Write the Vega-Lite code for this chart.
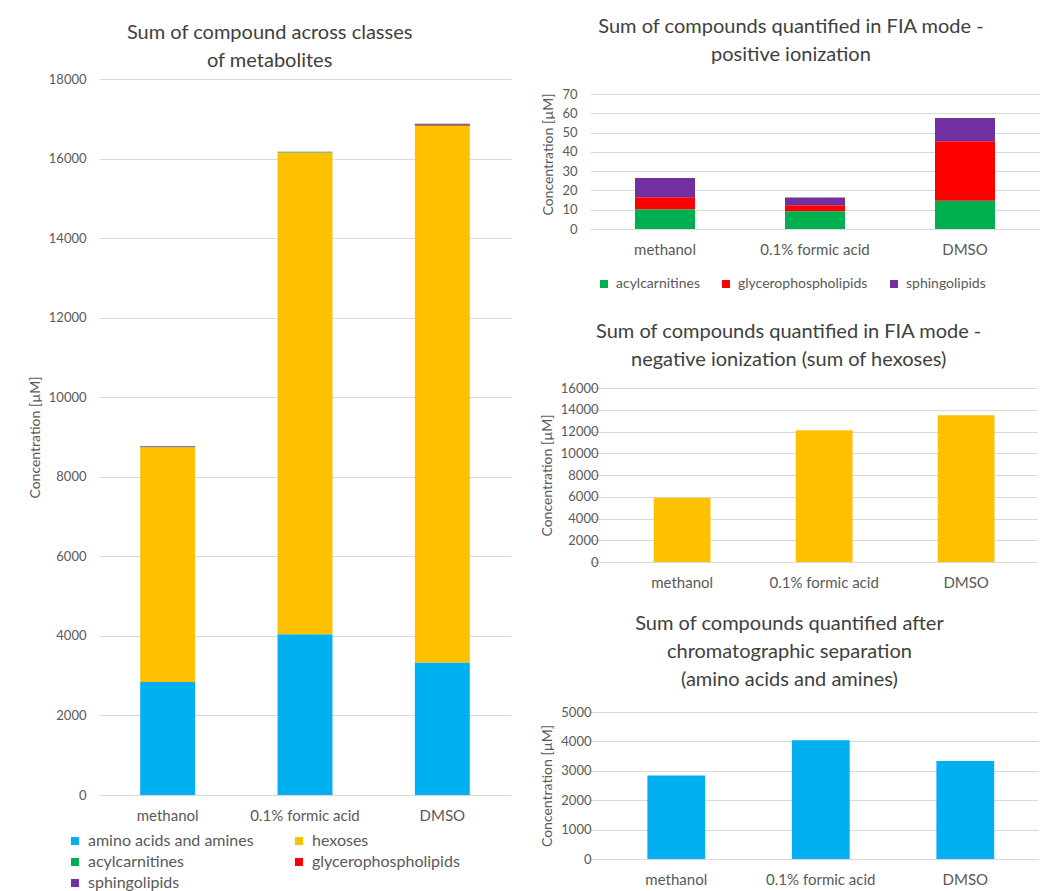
{
  "$schema": "https://vega.github.io/schema/vega-lite/v6.json",
  "background": "white",
  "padding": {"left": 28, "top": 17, "right": 0, "bottom": 0},
  "datasets": {
    "main": [
      {"solvent": "methanol", "class": "amino acids and amines", "value": 2840},
      {"solvent": "methanol", "class": "hexoses", "value": 5905},
      {"solvent": "methanol", "class": "acylcarnitines", "value": 10.2},
      {"solvent": "methanol", "class": "glycerophospholipids", "value": 6.3},
      {"solvent": "methanol", "class": "sphingolipids", "value": 9.9},
      {"solvent": "0.1% formic acid", "class": "amino acids and amines", "value": 4040},
      {"solvent": "0.1% formic acid", "class": "hexoses", "value": 12115},
      {"solvent": "0.1% formic acid", "class": "acylcarnitines", "value": 9.2},
      {"solvent": "0.1% formic acid", "class": "glycerophospholipids", "value": 3.1},
      {"solvent": "0.1% formic acid", "class": "sphingolipids", "value": 4.0},
      {"solvent": "DMSO", "class": "amino acids and amines", "value": 3330},
      {"solvent": "DMSO", "class": "hexoses", "value": 13490},
      {"solvent": "DMSO", "class": "acylcarnitines", "value": 14.6},
      {"solvent": "DMSO", "class": "glycerophospholipids", "value": 30.9},
      {"solvent": "DMSO", "class": "sphingolipids", "value": 12.0}
    ]
  },
  "columns": 2,
  "align": "none",
  "spacing": {"column": 29, "row": 0},
  "resolve": {"scale": {"color": "independent"}, "legend": {"color": "independent"}},
  "concat": [
    {
      "title": {"text": ["Sum of compound across classes", "of metabolites"], "offset": 2},
      "width": 412,
      "height": 716,
      "data": {"name": "main"},
      "transform": [{"calculate": "indexof(['amino acids and amines','hexoses','acylcarnitines','glycerophospholipids','sphingolipids'], datum['class'])", "as": "stack_rank"}],
      "mark": {"type": "bar"},
      "encoding": {
        "x": {"field": "solvent", "type": "nominal", "sort": ["methanol", "0.1% formic acid", "DMSO"], "scale": {"paddingInner": 0.6, "paddingOuter": 0.3}, "axis": {"title": null}},
        "y": {"field": "value", "type": "quantitative", "stack": "zero", "scale": {"domain": [0, 18000], "nice": false}, "axis": {"title": "Concentration [µM]", "values": [0, 2000, 4000, 6000, 8000, 10000, 12000, 14000, 16000, 18000], "format": "d"}},
        "color": {"field": "class", "type": "nominal", "scale": {"domain": ["amino acids and amines", "hexoses", "acylcarnitines", "glycerophospholipids", "sphingolipids"], "range": ["#00B0F0", "#FFC000", "#00B050", "#FF0000", "#7030A0"]}, "legend": {"title": null, "orient": "none", "direction": "horizontal", "legendX": -32, "legendY": 754, "columns": 2, "columnPadding": 37, "rowPadding": 5, "labelFontSize": 16, "labelLimit": 300}},
        "order": {"field": "stack_rank", "type": "quantitative", "sort": "ascending"}
      }
    },
    {
      "columns": 1,
      "align": "none",
      "spacing": 24,
      "resolve": {"scale": {"color": "independent"}, "legend": {"color": "independent"}},
      "concat": [
        {
          "title": {"text": ["Sum of compounds quantified in FIA mode -", "positive ionization"], "offset": 14},
          "width": 450,
          "height": 150,
          "data": {"name": "main"},
          "transform": [
            {"filter": {"field": "class", "oneOf": ["acylcarnitines", "glycerophospholipids", "sphingolipids"]}},
            {"calculate": "indexof(['acylcarnitines','glycerophospholipids','sphingolipids'], datum['class'])", "as": "stack_rank"}
          ],
          "mark": {"type": "bar"},
          "encoding": {
            "x": {"field": "solvent", "type": "nominal", "sort": ["methanol", "0.1% formic acid", "DMSO"], "scale": {"paddingInner": 0.6, "paddingOuter": 0.3}, "axis": {"title": null}},
            "y": {"field": "value", "type": "quantitative", "stack": "zero", "scale": {"domain": [0, 77.78], "nice": false}, "axis": {"title": "Concentration [µM]", "values": [0, 10, 20, 30, 40, 50, 60, 70]}},
            "color": {"field": "class", "type": "nominal", "scale": {"domain": ["acylcarnitines", "glycerophospholipids", "sphingolipids"], "range": ["#00B050", "#FF0000", "#7030A0"]}, "legend": {"title": null, "orient": "bottom", "offset": 13, "padding": 7, "direction": "horizontal", "columns": 3, "columnPadding": 19, "labelFontSize": 14, "labelLimit": 300}},
            "order": {"field": "stack_rank", "type": "quantitative", "sort": "ascending"}
          }
        },
        {
          "title": {"text": ["Sum of compounds quantified in FIA mode -", "negative ionization (sum of hexoses)"], "offset": 12},
          "width": 447,
          "height": 174,
          "data": {"name": "main"},
          "transform": [{"filter": {"field": "class", "equal": "hexoses"}}],
          "mark": {"type": "bar", "color": "#FFC000"},
          "encoding": {
            "x": {"field": "solvent", "type": "nominal", "sort": ["methanol", "0.1% formic acid", "DMSO"], "scale": {"paddingInner": 0.6, "paddingOuter": 0.374, "align": 0.6}, "axis": {"title": null}},
            "y": {"field": "value", "type": "quantitative", "scale": {"domain": [0, 16000], "nice": false}, "axis": {"title": "Concentration [µM]", "offset": -21, "values": [0, 2000, 4000, 6000, 8000, 10000, 12000, 14000, 16000], "format": "d"}}
          }
        },
        {
          "title": {"text": ["Sum of compounds quantified after", "chromatographic separation", "(amino acids and amines)"], "offset": 16},
          "width": 448,
          "height": 147,
          "data": {"name": "main"},
          "transform": [{"filter": {"field": "class", "equal": "amino acids and amines"}}],
          "mark": {"type": "bar", "color": "#00B0F0"},
          "encoding": {
            "x": {"field": "solvent", "type": "nominal", "sort": ["methanol", "0.1% formic acid", "DMSO"], "scale": {"paddingInner": 0.6, "paddingOuter": 0.35, "align": 0.567}, "axis": {"title": null}},
            "y": {"field": "value", "type": "quantitative", "scale": {"domain": [0, 5000], "nice": false}, "axis": {"title": "Concentration [µM]", "offset": -14, "values": [0, 1000, 2000, 3000, 4000, 5000], "format": "d"}}
          }
        }
      ]
    }
  ],
  "config": {
    "font": "Lato",
    "view": {"stroke": null},
    "axis": {"domain": false, "ticks": false, "labelColor": "#595959", "titleColor": "#595959", "gridColor": "#d9d9d9", "gridWidth": 1},
    "axisX": {"grid": false, "labelAngle": 0, "labelFontSize": 15, "labelPadding": 13},
    "axisY": {"labelFontSize": 13, "labelPadding": 13, "titleFontSize": 14, "titleFontWeight": "normal", "titlePadding": 6},
    "title": {"fontSize": 20, "fontWeight": "normal", "color": "#404040", "lineHeight": 28, "frame": "bounds", "anchor": "middle"},
    "legend": {"symbolType": "square", "symbolSize": 64, "symbolStrokeWidth": 0, "labelFontSize": 15, "labelColor": "#595959", "labelOffset": 5}
  }
}
